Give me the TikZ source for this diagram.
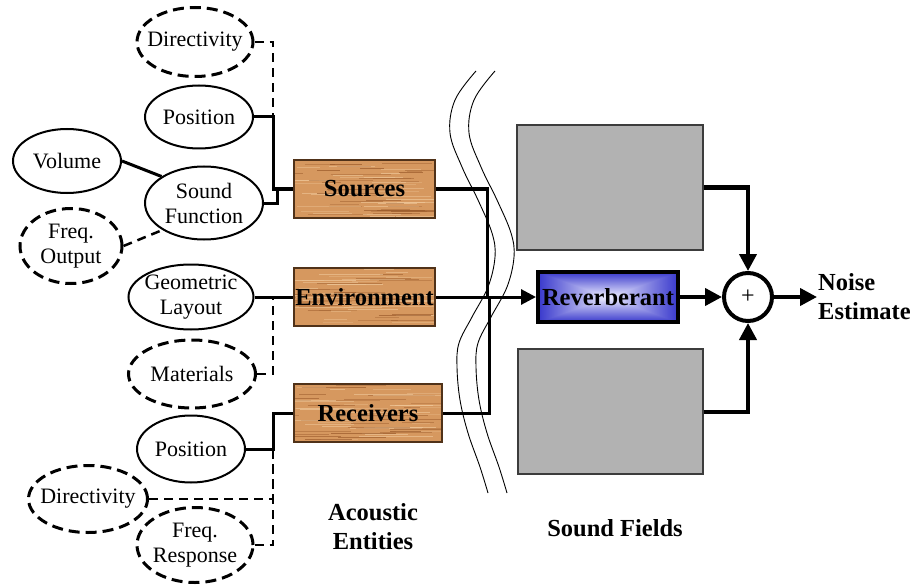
\documentclass[tikz,border=0pt]{standalone}
\usepackage{fontspec}
\setmainfont{Liberation Serif}
\usetikzlibrary{shapes.geometric,arrows.meta,calc}

\definecolor{woodbase}{RGB}{214,152,95}
\definecolor{wooddark}{RGB}{150,85,38}
\definecolor{woodlight}{RGB}{242,205,160}
\definecolor{woodedge}{RGB}{80,50,25}
\definecolor{fieldgray}{RGB}{178,178,178}
\definecolor{fieldedge}{RGB}{60,60,60}

% rectangular glow: light centre fading to blue towards every edge
% (the node fits the central 50bp square of the shading)
\pgfdeclarefunctionalshading{rectglow}{\pgfpoint{0bp}{0bp}}{\pgfpoint{100bp}{100bp}}{}{
  50 sub abs 25 div exch 50 sub abs 25 div
  2 copy lt {exch} if pop
  dup 1 gt {pop 1} if
  dup 0.72 mul 0.94 exch sub
  exch dup 0.72 mul 0.94 exch sub
  exch 0.2 mul 1 exch sub
}

\newcommand{\nfnt}{\fontsize{22}{25}\selectfont}
\newcommand{\bfnt}{\fontsize{24.5}{29}\selectfont\bfseries}

\tikzset{
  ell/.style={ellipse, draw, line width=2pt, inner sep=0pt},
  dell/.style={ellipse, draw, line width=3pt, dash pattern=on 11pt off 6pt, inner sep=0pt},
  lbl/.style={font=\nfnt, align=center, inner sep=0pt},
  wire/.style={line width=3pt},
  dwire/.style={line width=2.5pt, dash pattern=on 9pt off 6pt},
  bigwire/.style={line width=4pt, -{Triangle[length=17pt,width=17pt]}},
  wave/.style={line width=0.9pt},
  woodbox/.style={draw=woodedge, line width=1.5pt, fill=woodbase, inner sep=0pt,
    minimum width=141pt, minimum height=58pt, font=\bfnt,
    path picture={
      \foreach \k in {1,...,70}{
        \pgfmathsetmacro\fy{rnd}
        \pgfmathsetmacro\fx{rnd*0.9-0.1}
        \pgfmathsetmacro\fl{0.1+0.4*rnd}
        \pgfmathsetmacro\op{0.25+0.4*rnd}
        \pgfmathsetmacro\tone{mod(\k,2)}
        \ifdim\tone pt<0.5pt \def\wc{wooddark}\else\def\wc{woodlight}\fi
        \draw[\wc, line width=0.7pt, opacity=\op]
          let \p1=(path picture bounding box.south west),
              \p2=(path picture bounding box.north east) in
          ({\x1+\fx*(\x2-\x1)},{\y1+\fy*(\y2-\y1)}) -- ++({\fl*(\x2-\x1)},0pt);
      }
    }},
  graybox/.style={draw=fieldedge, line width=1.2pt, fill=fieldgray, inner sep=0pt},
  revbox/.style={draw, line width=4pt, shading=rectglow, inner sep=0pt,
    minimum width=140pt, minimum height=50pt, font=\bfnt},
  sumnode/.style={circle, draw, line width=4pt, minimum size=48pt, inner sep=0pt,
    font=\fontsize{24}{24}\selectfont},
  heading/.style={font=\bfnt, align=center, inner sep=1pt}
}

\begin{document}
\begin{tikzpicture}[x=1pt, y=-1pt]
\pgfmathsetseed{7}
\useasboundingbox (0,0) rectangle (912,588);

% attributes of the acoustic entities
\node[dell, minimum width=116, minimum height=69, label={[lbl]center:Directivity}] (dirS) at (195,42) {};
\node[ell, minimum width=108, minimum height=63, label={[lbl]center:Position}] (posS) at (199,117) {};
\node[ell, minimum width=108, minimum height=64, label={[lbl]center:Volume}] (vol) at (67,161) {};
\node[ell, minimum width=118, minimum height=73, label={[lbl]center:Sound\\Function}] (sf) at (204,203) {};
\node[dell, minimum width=102, minimum height=75, label={[lbl]center:Freq.\\Output}] (fo) at (71,246) {};
\node[ell, minimum width=125, minimum height=65, label={[lbl]center:Geometric\\Layout}] (geo) at (191,297) {};
\node[dell, minimum width=127, minimum height=68, label={[lbl]center:Materials}] (mat) at (192,374) {};
\node[ell, minimum width=108, minimum height=67, label={[lbl]center:Position}] (posR) at (191,449) {};
\node[dell, minimum width=119, minimum height=67, label={[lbl]center:Directivity}] (dirR) at (88,499) {};
\node[dell, minimum width=116, minimum height=75, label={[lbl]center:Freq.\\Response}] (fr) at (195,545) {};

% the entities
\node[woodbox] (src) at (364.5,189) {Sources};
\node[woodbox] (env) at (364.5,297) {Environment};
\node[woodbox, minimum width=148pt] (rec) at (368,413) {Receivers};

% sound fields
\node[graybox, minimum width=186pt, minimum height=125pt] (gtop) at (610,187.5) {};
\node[graybox, minimum width=185pt, minimum height=125pt] (gbot) at (610.5,411.5) {};
\node[revbox] (rev) at (608,297) {Reverberant};
\node[sumnode] (sum) at (748,297) {+};
\node[heading, anchor=west, align=left] (out) at (817,297) {Noise\\Estimate};

% captions
\node[heading] (capA) at (373,527) {Acoustic\\Entities};
\node[heading] (capF) at (615,528) {Sound Fields};

% wavy divider between the two halves
\foreach \dx in {0,19}{
  \draw[wave, xshift=\dx pt] plot[smooth, tension=0.6] coordinates {
    (476,71) (455,100) (450,133) (462,167) (478,200) (492,233) (495,257)
    (488,287) (472,317) (459,343) (457,367) (460,400) (468,433) (480,467) (488,493)};
}

% junction points
\coordinate (jS)  at (273,189);
\coordinate (jSF) at (277,189);
\coordinate (jE)  at (273,297);
\coordinate (jR)  at (273,413);
\coordinate (jA)  at (487,297);
\coordinate (jB)  at (489,297);

% optional (dashed) attributes
\draw[dwire] (dirS.east) -| (jS);
\draw[dwire] (fo.east) -- (sf.213);
\draw[dwire] (mat.east) -| (jE);
\draw[dwire] (dirR.east) -| (jR);
\draw[dwire] (fr.east) -| (jR);

% required attributes
\draw[wire] (posS.east) -| (jS) -- (src.west);
\draw[wire] (sf.east) -| (jSF);
\draw[wire] (vol.east) -- (sf.148);
\draw[wire] (geo.east) -- (env.west);
\draw[wire] (posR.east) -| (jR) -- (rec.west);

% entities into the sound field
\draw[wire] (src.east) -| (jA);
\draw[wire] (rec.east) -| (jB);
\draw[wire, -{Triangle[length=15pt,width=15pt]}] (env.east) -- (rev.west);

% summation
\draw[bigwire] (gtop.east) -| (sum.north);
\draw[bigwire] (gbot.east) -| (sum.south);
\draw[bigwire] (rev.east) -- (sum.west);
\draw[bigwire] (sum.east) -- (out.west);
\end{tikzpicture}
\end{document}
